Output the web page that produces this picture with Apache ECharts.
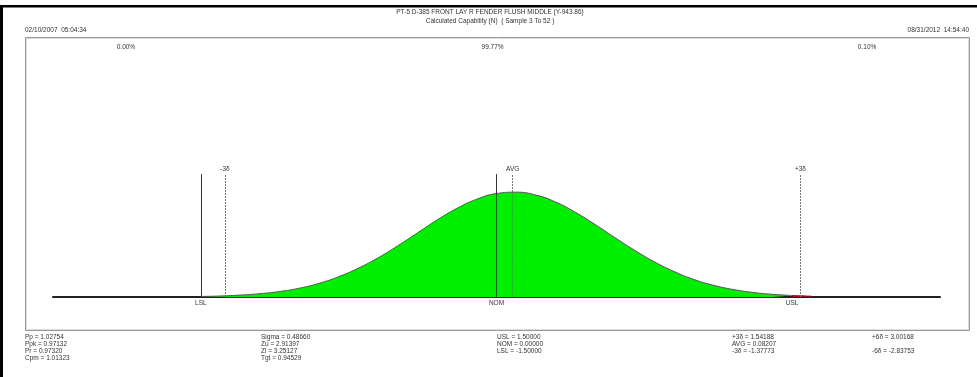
<!DOCTYPE html>
<html>
<head>
<meta charset="utf-8">
<script src="https://cdn.jsdelivr.net/npm/echarts@6/dist/echarts.min.js"></script>
<style>
  html, body { margin: 0; padding: 0; background: #fff; }
  #chart { width: 977px; height: 377px; }
</style>
</head>
<body>
<div id="chart"></div>
<script>
// Fitted distribution curve (relative density) inside the spec limits
const curveX = [-1.5, -1.4, -1.3, -1.2, -1.1, -1.0, -0.9, -0.8, -0.7, -0.6, -0.5, -0.4, -0.3, -0.2, -0.1,
                0.0, 0.1, 0.2, 0.3, 0.4, 0.5, 0.6, 0.7, 0.8, 0.9, 1.0, 1.1, 1.2, 1.3, 1.4, 1.5];
const curveY = [0.004, 0.008, 0.015, 0.026, 0.043, 0.069, 0.107, 0.159, 0.226, 0.307, 0.401, 0.502, 0.603, 0.693, 0.764,
                0.808, 0.819, 0.796, 0.742, 0.662, 0.567, 0.465, 0.366, 0.276, 0.200, 0.138, 0.092, 0.059, 0.036, 0.021, 0.012];
// Tail beyond the upper spec limit
const tailX = [1.5, 1.55, 1.6];
const tailY = [0.012, 0.009, 0.006];

// Reference lines on the x scale
const specLines = [
  { name: 'LSL', value: -1.5, solid: true, labelPos: 'bottom' },
  { name: '-3δ', value: -1.37773, solid: false, labelPos: 'top' },
  { name: 'NOM', value: 0.0, solid: true, labelPos: 'bottom' },
  { name: 'AVG', value: 0.08207, solid: false, labelPos: 'top' },
  { name: '+3δ', value: 1.54188, solid: false, labelPos: 'top' },
  { name: 'USL', value: 1.5, solid: null, labelPos: 'bottom' }
];

// Share of the distribution below LSL, between limits, above USL
const zoneLabels = ['0.00%', '99.77%', '0.10%'];
const zoneCenters = [-1.88, -0.02, 1.88];

const titleLines = ['PT-5 D-385 FRONT LAY R FENDER FLUSH MIDDLE (Y-943.86)', 'Calculated Capability (N)  ( Sample 3 To 52 )'];
const startStamp = '02/10/2007  05:04:34';
const endStamp = '08/31/2012  14:54:40';

// Capability statistics, column by column
const statCols = [
  ['Pp = 1.02754', 'Ppk = 0.97132', 'Pr = 0.97320', 'Cpm = 1.01323'],
  ['Sigma = 0.48660', 'Zu = 2.91397', 'Zl = 3.25127', 'Tgt = 0.94529'],
  ['USL = 1.50000', 'NOM = 0.00000', 'LSL = -1.50000'],
  ['+3δ = 1.54188', 'AVG = 0.08207', '-3δ = -1.37773'],
  ['+6δ = 3.00168', '', '-6δ = -2.83753']
];

const FONT = '"Liberation Sans", Arial, sans-serif';
const FS = 6.5;
const TXT = '#333';
const LINE_TOP = 0.96;

const chart = echarts.init(document.getElementById('chart'), null, { renderer: 'canvas' });

chart.setOption({
  animation: false,
  backgroundColor: '#fff',
  grid: { left: 53, right: 37, top: 169, bottom: 80 },
  xAxis: {
    type: 'value', min: -2.25, max: 2.25,
    axisLine: { show: true, onZero: false, lineStyle: { color: '#222', width: 2 } },
    axisTick: { show: false }, axisLabel: { show: false }, splitLine: { show: false }
  },
  yAxis: {
    type: 'value', min: 0, max: 1, show: false, splitLine: { show: false }
  },
  series: [
    {
      type: 'line', smooth: true, symbol: 'none', z: 3,
      data: curveX.map((x, i) => [x, curveY[i]]),
      lineStyle: { color: '#555', width: 1 },
      areaStyle: { color: '#00ee00', opacity: 1 }
    },
    {
      type: 'line', smooth: true, symbol: 'none', z: 3,
      data: tailX.map((x, i) => [x, tailY[i]]),
      lineStyle: { color: '#8b1a1a', width: 1 },
      areaStyle: { color: '#c00000', opacity: 1 }
    },
    {
      type: 'line', symbol: 'none', data: [], z: 5,
      markLine: {
        symbol: ['none', 'none'], silent: true, animation: false,
        label: { show: false },
        data: specLines.filter(s => s.solid !== null).map(s => [
          { coord: [s.value, 0], lineStyle: s.solid ? { color: '#333', width: 1, type: 'solid' } : { color: '#777', width: 1, type: [2, 1] } },
          { coord: [s.value, LINE_TOP] }
        ])
      }
    }
  ]
});

// Text and frame drawn around the plot
const g = [];
g.push({ type: 'rect', shape: { x: 0, y: 5, width: 977, height: 2.5 }, style: { fill: '#000' } });
g.push({ type: 'rect', shape: { x: 0, y: 5, width: 3, height: 372 }, style: { fill: '#000' } });
g.push({ type: 'rect', shape: { x: 25.5, y: 37.5, width: 944, height: 293 }, style: { fill: 'none', stroke: '#999', lineWidth: 1 } });
g.push({ type: 'rect', shape: { x: 26.5, y: 38.5, width: 942, height: 291 }, style: { fill: 'none', stroke: '#ddd', lineWidth: 1 } });

const txt = (x, y, text, align) => ({
  type: 'text', x, y,
  style: { text, fill: TXT, font: FS + 'px ' + FONT, textAlign: align || 'left', textVerticalAlign: 'middle' }
});

g.push(txt(490, 12, titleLines[0], 'center'));
g.push(txt(490, 21, titleLines[1], 'center'));
g.push(txt(25, 30, startStamp, 'left'));
g.push(txt(969, 30, endStamp, 'right'));

zoneLabels.forEach((t, i) => {
  const px = chart.convertToPixel({ gridIndex: 0 }, [zoneCenters[i], 0])[0];
  g.push(txt(px, 47, t, 'center'));
});

specLines.forEach(s => {
  const p = chart.convertToPixel({ gridIndex: 0 }, [s.value, LINE_TOP]);
  const b = chart.convertToPixel({ gridIndex: 0 }, [s.value, 0]);
  if (s.labelPos === 'top') g.push(txt(p[0], p[1] - 5, s.name, 'center'));
  else g.push(txt(b[0], b[1] + 6, s.name, 'center'));
});

const colX = [25, 261, 497, 732, 872];
const rowY = [337, 344, 351, 358];
statCols.forEach((col, ci) => {
  col.forEach((t, ri) => { if (t) g.push(txt(colX[ci], rowY[ri], t, 'left')); });
});

chart.setOption({ graphic: { elements: g } });
</script>
</body>
</html>
